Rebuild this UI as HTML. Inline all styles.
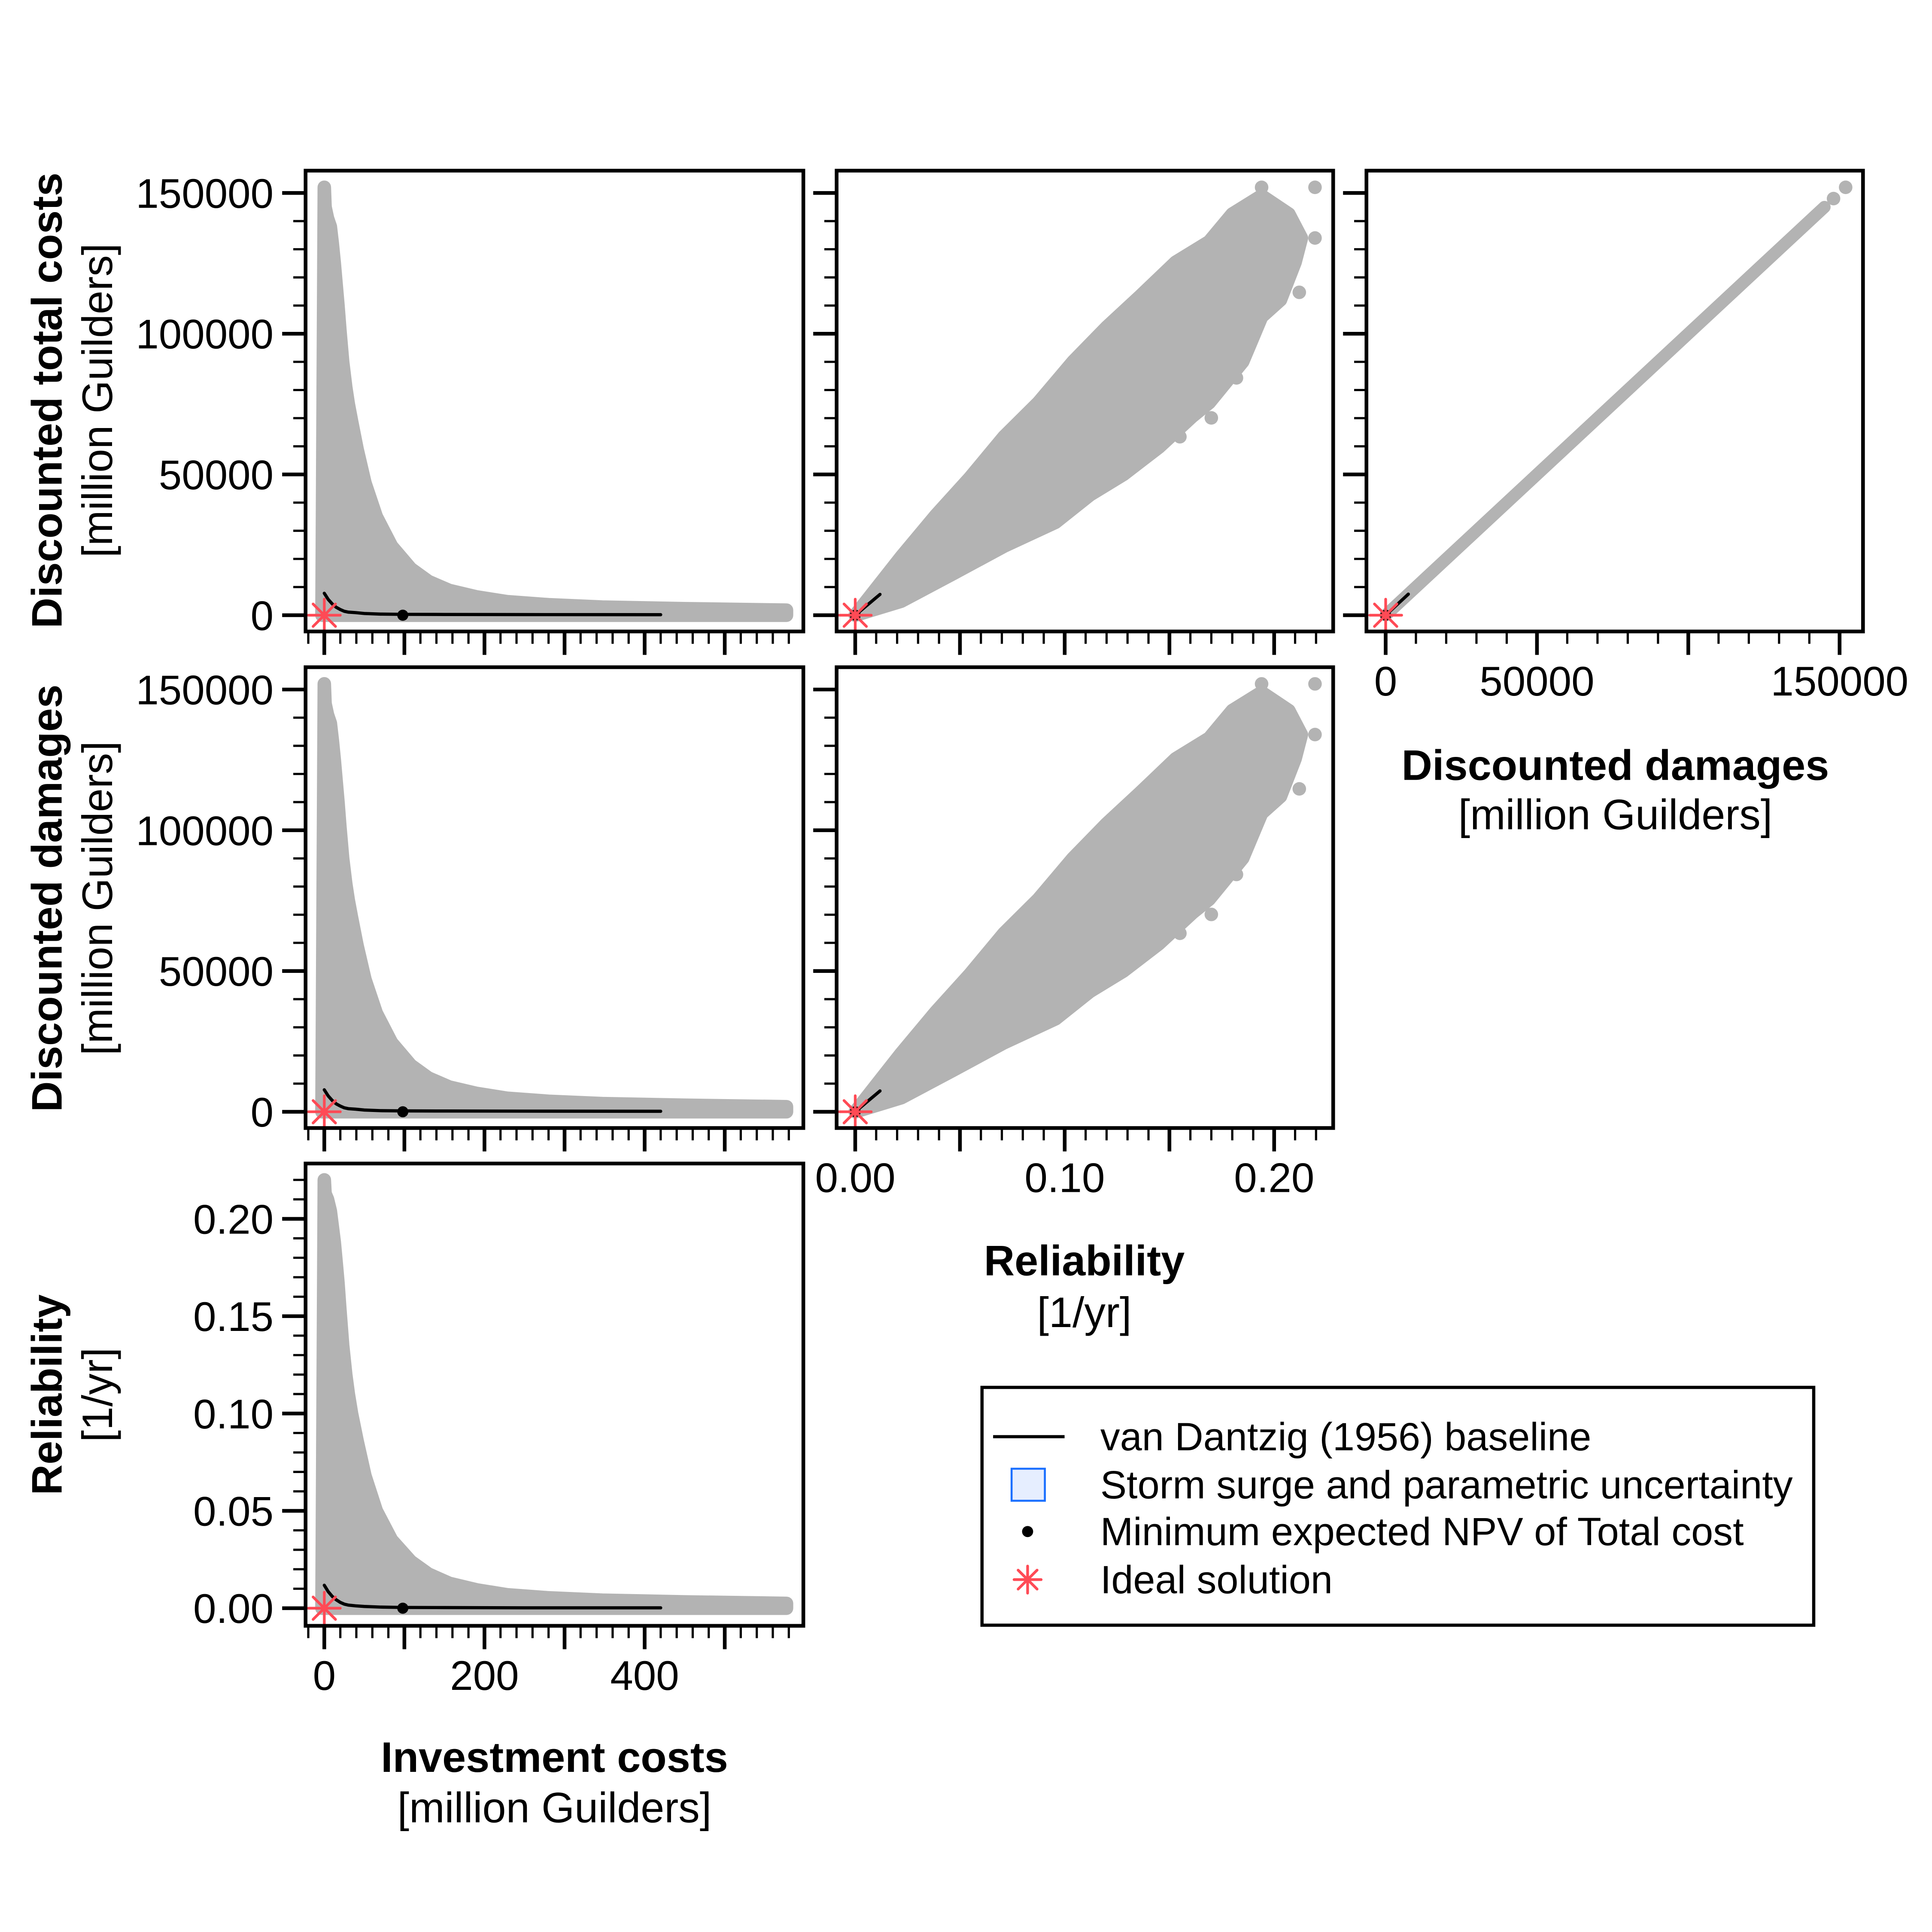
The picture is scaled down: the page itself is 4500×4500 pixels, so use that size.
<!DOCTYPE html>
<html><head><meta charset="utf-8">
<style>
html,body{margin:0;padding:0;background:#fff;}
svg{display:block;}
text{font-family:"Liberation Sans",Arial,sans-serif;fill:#000;}
</style></head>
<body>
<svg id="chart" xmlns="http://www.w3.org/2000/svg" width="4500" height="4500" viewBox="0 0 1568 1568">
<rect x="0" y="0" width="1568" height="1568" fill="#fff"/>
</svg>
<script>
// ---- data ----
// investment-cost clouds: upper envelope (investment, value)
const invEnvX = [-3, 0, 1, 4, 7.6, 10, 12.4, 15, 17, 19.6, 23, 26.8, 30, 34, 41, 50.7, 65, 84, 108, 130, 156, 190, 228, 280, 347, 450, 577];
const costEnvY = [0, 152000, 145000, 141000, 138000, 132000, 125000, 117000, 110000, 101000, 90000, 81000, 75000, 69000, 59000, 47000, 35000, 24500, 16500, 12000, 8800, 6500, 4800, 3700, 2900, 2300, 1800];
const invRelEnvX = [-3, 0, 1, 4, 7.6, 10, 12.4, 15, 17, 19.6, 23, 26.8, 30, 34, 41, 50.7, 65, 84, 108, 130, 156, 190, 228, 280, 347, 450, 577];
const relEnvY = [0, 0.22, 0.213, 0.21, 0.204, 0.196, 0.188, 0.177, 0.167, 0.153, 0.135, 0.12, 0.11, 0.1, 0.086, 0.068, 0.05, 0.035, 0.024, 0.0175, 0.0128, 0.0094, 0.0069, 0.0053, 0.0041, 0.0032, 0.0025];
// reliability vs cost cloud: upper and lower envelopes
const relUpX = [0, 0.022, 0.0384, 0.0547, 0.071, 0.0874, 0.104, 0.12, 0.136, 0.153, 0.169, 0.18, 0.194];
const costUpY = [0, 20800, 35400, 48800, 63400, 75500, 90100, 102300, 113300, 125400, 132700, 142500, 149000];
const relLoX = [0, 0.022, 0.0466, 0.071, 0.0956, 0.112, 0.128, 0.145, 0.161, 0.169, 0.185, 0.194, 0.203, 0.21, 0.213, 0.207];
const costLoY = [0, 5000, 14700, 24500, 33000, 42700, 50000, 59700, 70700, 75500, 90100, 106000, 112000, 125400, 134000, 142500];
const relOutX = [0.194, 0.2195, 0.2195, 0.212, 0.182, 0.17, 0.155];
const costOutY = [152000, 152000, 134000, 114700, 84300, 70100, 63400];
// damages vs total cost (near identity)
const dmgLineX = [0, 145000];
const costLineY = [0, 145000];
const dmgOutX = [148000, 152000];
const costOutY2 = [148000, 152000];
// van Dantzig baseline curve
const baseInv = [0, 5, 10, 15, 20, 25, 30, 39, 50, 70, 98, 150, 250, 420];
const baseCost = [7800, 5600, 4000, 2800, 2000, 1400, 1100, 900, 600, 400, 300, 250, 200, 180];
const baseRel = [0.0118, 0.0085, 0.006, 0.0043, 0.003, 0.0021, 0.0016, 0.0012, 0.0009, 0.0006, 0.0004, 0.0003, 0.0002, 0.0002];
const baseRelShort = [0, 0.0118];
const baseCostShort = [0, 7400];
const minInv = 98, minCost = 0, minRel = 0, minDmg = 0;
const idealInv = 0, idealCost = 0, idealRel = 0, idealDmg = 0;
// ticks
const invMajor = [0, 100, 200, 300, 400, 500];
const invLabels = ["0", "200", "400"];
const costMajor = [0, 50000, 100000, 150000];
const costLabels = ["0", "50000", "100000", "150000"];
const relMajor = [0, 0.05, 0.10, 0.15, 0.20];
const relXLabels = ["0.00", "0.10", "0.20"];
const relYLabels = ["0.00", "0.05", "0.10", "0.15", "0.20"];
const dmgXLabels = ["0", "50000", "150000"];

// ---- layout ----
const svg = document.getElementById('chart');
const NS = 'http://www.w3.org/2000/svg';
const GRAY = '#b3b3b3', RED = '#ff4a55';
const TICKFS = 33.5, TITLEFS = 34.5, LEGFS = 32;
const cols = [[248, 652], [679, 1082], [1109, 1512]];
const rows = [[138.5, 512.5], [541.5, 915.5], [944.3, 1319.5]];
const invX = v => 263.2 + v * 0.65;
const relX = v => 694.1 + v * 1700;
const dmgX = v => 1124.6 + v * (368.4 / 150000);
const costY = r => v => [499.3, 902.3][r] - v * (342.7 / 150000);
const relY = v => 1305.2 - v * 1580;

function el(tag, attrs, parent) {
  const e = document.createElementNS(NS, tag);
  for (const k in attrs) e.setAttribute(k, attrs[k]);
  (parent || svg).appendChild(e);
  return e;
}
function txt(s, x, y, size, anchor, bold, parent, rot) {
  const t = el('text', {x: x, y: y, 'font-size': size, 'text-anchor': anchor || 'middle', 'font-weight': bold ? 'bold' : 'normal'}, parent);
  if (rot) t.setAttribute('transform', 'rotate(-90 ' + x + ' ' + y + ')');
  t.textContent = s;
  return t;
}

let clipN = 0;
function panel(name, c, r) {
  const g = el('g', {});
  
  
  const [x0, x1] = cols[c], [y0, y1] = rows[r];
  const id = 'clip' + (clipN++);
  const cp = el('clipPath', {id: id}, g);
  el('rect', {x: x0, y: y0, width: x1 - x0, height: y1 - y0}, cp);
  const inner = el('g', {'clip-path': 'url(#' + id + ')'}, g);
  return {g, inner, x0, x1, y0, y1};
}
function frame(p) {
  const f = el('rect', {x: p.x0, y: p.y0, width: p.x1 - p.x0, height: p.y1 - p.y0, fill: 'none', stroke: '#000', 'stroke-width': 3}, p.g);
  
  
}
function poly(p, pts, name) {
  const d = pts.map((q, i) => (i ? 'L' : 'M') + q[0].toFixed(1) + ' ' + q[1].toFixed(1)).join(' ') + ' Z';
  const e = el('path', {d: d, fill: GRAY, stroke: GRAY, 'stroke-width': 11, 'stroke-linejoin': 'round'}, p.inner);
  
  
}
function dot(p, x, y, name, r, col) {
  const e = el('circle', {cx: x, cy: y, r: r || 5.5, fill: col || GRAY}, p.inner);
  
  
}
function line(p, xs, ys, name) {
  const d = xs.map((v, i) => (i ? 'L' : 'M') + xs[i].toFixed(1) + ' ' + ys[i].toFixed(1)).join(' ');
  const e = el('path', {d: d, fill: 'none', stroke: '#000', 'stroke-width': 2.6, 'stroke-linecap': 'round'}, p.inner);
  
  
}
function star(parent, x, y, s) {
  const g = el('g', {stroke: RED, 'stroke-width': 2.2, 'stroke-linecap': 'round'}, parent);
  
  
  el('line', {x1: x - s, y1: y, x2: x + s, y2: y}, g);
  el('line', {x1: x, y1: y - s, x2: x, y2: y + s}, g);
  el('line', {x1: x - s * .7, y1: y - s * .7, x2: x + s * .7, y2: y + s * .7}, g);
  el('line', {x1: x - s * .7, y1: y + s * .7, x2: x + s * .7, y2: y - s * .7}, g);
}
function xTicks(p, fx, minFrom, minTo, minStep, majors, labels, labelVals) {
  const g = el('g', {stroke: '#000'}, p.g);
  
  
  const n = Math.round((minTo - minFrom) / minStep);
  for (let i = 0; i <= n; i++) {
    const x = fx(minFrom + i * minStep);
    el('line', {x1: x, y1: p.y1, x2: x, y2: p.y1 + 10, 'stroke-width': 1.8}, g);
  }
  majors.forEach(v => el('line', {x1: fx(v), y1: p.y1, x2: fx(v), y2: p.y1 + 19, 'stroke-width': 3}, g));
  if (labels) labels.forEach((s, i) => {
    const t = txt(s, fx(labelVals[i]), p.y1 + 52, TICKFS, 'middle', false, p.g);
    
    
  });
}
function yTicks(p, fy, minFrom, minTo, minStep, majors, labels) {
  const g = el('g', {stroke: '#000'}, p.g);
  
  
  const n = Math.round((minTo - minFrom) / minStep);
  for (let i = 0; i <= n; i++) {
    const y = fy(minFrom + i * minStep);
    el('line', {x1: p.x0, y1: y, x2: p.x0 - 10, y2: y, 'stroke-width': 1.8}, g);
  }
  majors.forEach(v => el('line', {x1: p.x0, y1: fy(v), x2: p.x0 - 19, y2: fy(v), 'stroke-width': 3}, g));
  if (labels) labels.forEach((s, i) => {
    const t = txt(s, p.x0 - 26, fy(majors[i]) + 12, TICKFS, 'end', false, p.g);
    
    
  });
}

// investment-type cloud
function invCloud(p, fy, ex, ey, name) {
  const pts = ex.map((v, i) => [invX(v), fy(ey[i])]);
  pts.push([invX(ex[ex.length - 1]), fy(0)]);
  pts.push([invX(-3), fy(0)]);
  poly(p, pts, name);
}

// Panel 1: total costs vs investment
const p1 = panel('panel-total-costs-vs-investment', 0, 0);
invCloud(p1, costY(0), invEnvX, costEnvY, 'uncertainty-cloud');
line(p1, baseInv.map(invX), baseCost.map(costY(0)), 'baseline-curve');
dot(p1, invX(minInv), costY(0)(minCost), 'min-npv-point', 4.5, '#000');
star(p1.inner, invX(idealInv), costY(0)(idealCost), 13);
frame(p1);
xTicks(p1, invX, -20, 580, 20, invMajor);
yTicks(p1, costY(0), 0, 150000, 10000, costMajor, costLabels);

// Panel 2: total costs vs reliability
function relCloud(p, fy) {
  const pts = relUpX.map((v, i) => [relX(v), fy(costUpY[i])]);
  for (let i = relLoX.length - 1; i >= 0; i--) pts.push([relX(relLoX[i]), fy(costLoY[i])]);
  poly(p, pts, 'uncertainty-cloud');
  relOutX.forEach((v, i) => dot(p, relX(v), fy(costOutY[i]), 'outlier-point'));
  line(p, baseRelShort.map(relX), baseCostShort.map(fy), 'baseline-curve');
  dot(p, relX(minRel), fy(minCost), 'min-npv-point', 4.5, '#000');
  star(p.inner, relX(idealRel), fy(idealCost), 13);
}
const p2 = panel('panel-total-costs-vs-reliability', 1, 0);
relCloud(p2, costY(0));
frame(p2);
xTicks(p2, relX, 0, 0.22, 0.01, relMajor);
yTicks(p2, costY(0), 0, 150000, 10000, costMajor);

// Panel 3: total costs vs damages
const p3 = panel('panel-total-costs-vs-damages', 2, 0);
(function () {
  const fy = costY(0);
  const e = el('line', {x1: dmgX(dmgLineX[0]), y1: fy(costLineY[0]), x2: dmgX(dmgLineX[1]), y2: fy(costLineY[1]), stroke: GRAY, 'stroke-width': 10, 'stroke-linecap': 'round'}, p3.inner);
  
  
  dmgOutX.forEach((v, i) => dot(p3, dmgX(v), fy(costOutY2[i]), 'outlier-point'));
  line(p3, [dmgX(0), dmgX(7500)], [fy(0), fy(7500)], 'baseline-curve');
  dot(p3, dmgX(minDmg), fy(minCost), 'min-npv-point', 4.5, '#000');
  star(p3.inner, dmgX(idealDmg), fy(idealCost), 13);
})();
frame(p3);
xTicks(p3, dmgX, 0, 150000, 10000, costMajor, dmgXLabels, [0, 50000, 150000]);
yTicks(p3, costY(0), 0, 150000, 10000, costMajor);

// Panel 4: damages vs investment
const p4 = panel('panel-damages-vs-investment', 0, 1);
invCloud(p4, costY(1), invEnvX, costEnvY, 'uncertainty-cloud');
line(p4, baseInv.map(invX), baseCost.map(costY(1)), 'baseline-curve');
dot(p4, invX(minInv), costY(1)(minDmg), 'min-npv-point', 4.5, '#000');
star(p4.inner, invX(idealInv), costY(1)(idealDmg), 13);
frame(p4);
xTicks(p4, invX, -20, 580, 20, invMajor);
yTicks(p4, costY(1), 0, 150000, 10000, costMajor, costLabels);

// Panel 5: damages vs reliability
const p5 = panel('panel-damages-vs-reliability', 1, 1);
relCloud(p5, costY(1));
frame(p5);
xTicks(p5, relX, 0, 0.22, 0.01, relMajor, relXLabels, [0, 0.10, 0.20]);
yTicks(p5, costY(1), 0, 150000, 10000, costMajor);

// Panel 7: reliability vs investment
const p7 = panel('panel-reliability-vs-investment', 0, 2);
invCloud(p7, relY, invRelEnvX, relEnvY, 'uncertainty-cloud');
line(p7, baseInv.map(invX), baseRel.map(relY), 'baseline-curve');
dot(p7, invX(minInv), relY(minRel), 'min-npv-point', 4.5, '#000');
star(p7.inner, invX(idealInv), relY(idealRel), 13);
frame(p7);
xTicks(p7, invX, -20, 580, 20, invMajor, invLabels, [0, 200, 400]);
yTicks(p7, relY, 0, 0.22, 0.01, [0, 0.05, 0.10, 0.15, 0.20], relYLabels);

// axis titles
function title(a, b, x, y1, y2, name) {
  const t1 = txt(a, x, y1, TITLEFS, 'middle', true);
  
  
  const t2 = txt(b, x, y2, TITLEFS, 'middle', false);
  
  
}
function ytitle(a, b, cy, name) {
  const t1 = txt(a, 50, cy, TITLEFS, 'middle', true, null, true);
  
  
  const t2 = txt(b, 91, cy, TITLEFS, 'middle', false, null, true);
  
  
}
title('Investment costs', '[million Guilders]', 450, 1438, 1479, 'investment-x-axis');
title('Reliability', '[1/yr]', 880, 1035, 1077, 'reliability-x-axis');
title('Discounted damages', '[million Guilders]', 1311, 633, 673, 'damages-x-axis');
ytitle('Discounted total costs', '[million Guilders]', 325, 'total-costs-y-axis');
ytitle('Discounted damages', '[million Guilders]', 729, 'damages-y-axis');
ytitle('Reliability', '[1/yr]', 1132, 'reliability-y-axis');

// legend
const lg = el('g', {});


el('rect', {x: 797, y: 1126, width: 675, height: 193, fill: '#fff', stroke: '#000', 'stroke-width': 2.6}, lg);
const legY = [1166, 1205, 1243, 1282];
const legLabels = ['van Dantzig (1956) baseline', 'Storm surge and parametric uncertainty', 'Minimum expected NPV of Total cost', 'Ideal solution'];
el('line', {x1: 806, y1: legY[0], x2: 864, y2: legY[0], stroke: '#000', 'stroke-width': 2.6}, lg);
el('rect', {x: 821, y: legY[1] - 13, width: 27, height: 26, fill: '#e6eeff', stroke: '#1a6fff', 'stroke-width': 1.6}, lg);
el('circle', {cx: 834, cy: legY[2], r: 4.5, fill: '#000'}, lg);
star(lg, 834, legY[3], 11);
legLabels.forEach((s, i) => {
  const t = txt(s, 893, legY[i] + 11, LEGFS, 'start', false, lg);
  
  
});
</script>
</body></html>
